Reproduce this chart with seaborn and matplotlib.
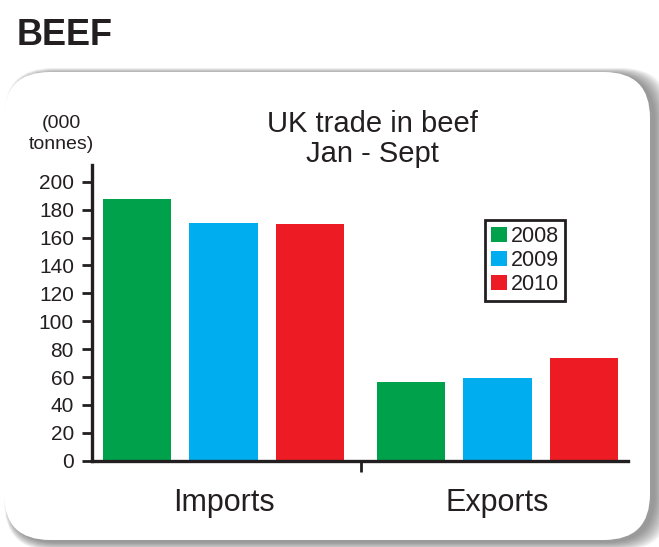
import matplotlib
matplotlib.use("Agg")
import matplotlib.pyplot as plt
from matplotlib.patches import FancyBboxPatch
import seaborn as sns
import pandas as pd

# values, thousand tonnes
flows = ["Imports", "Exports"]
years = ["2008", "2009", "2010"]
imports = [187.4, 170.6, 169.5]
exports = [56.4, 59.3, 73.6]
colours = ["#00A14B", "#00AEEF", "#ED1C24"]
yticks = list(range(0, 201, 20))

df = pd.DataFrame({
    "flow": [f for f in flows for _ in years],
    "year": years * 2,
    "tonnes": imports + exports,
})

sns.set_style("white")
plt.rcParams["font.family"] = ["Liberation Sans", "DejaVu Sans"]

W, H = 659, 547
fig = plt.figure(figsize=(W / 100, H / 100), dpi=100)
fig.patch.set_facecolor("white")

# background panel in pixel units
bg = fig.add_axes([0, 0, 1, 1], zorder=0)
bg.set_xlim(0, W)
bg.set_ylim(H, 0)
bg.axis("off")
x0, y0, x1, y1 = 4, 72, 650, 540
for k in range(12, 0, -1):
    bg.add_patch(FancyBboxPatch((x0 + 4 - k * 0.3, y0 + 2 - k * 0.5), x1 - x0 + k * 1.6, y1 - y0 + k * 1.2,
                                boxstyle="round,pad=0,rounding_size=48",
                                facecolor="#444444", edgecolor="none", alpha=0.06))
bg.add_patch(FancyBboxPatch((x0, y0), x1 - x0, y1 - y0,
                            boxstyle="round,pad=0,rounding_size=46",
                            facecolor="white", edgecolor="none"))

ink = "#231f20"
ax = fig.add_axes([92 / W, 1 - 460.7 / H, (628 - 92) / W, (460.7 - 165) / H], zorder=1)
ax.set_facecolor("none")
sns.barplot(data=df, x="flow", y="tonnes", hue="year", palette=colours,
            width=0.945, gap=0.21, saturation=1, linewidth=0, ax=ax)

ax.set_xlim(-0.48, 1.476)
ax.set_ylim(0, 212)
ax.set_yticks(yticks)
ax.set_xlabel("")
ax.set_ylabel("")
sns.despine(ax=ax)
for s in ["left", "bottom"]:
    ax.spines[s].set_linewidth(2.4)
    ax.spines[s].set_color(ink)
ax.tick_params(axis="y", left=True, length=7, width=2, color=ink, direction="out",
               pad=6, labelsize=15, labelcolor=ink)
ax.tick_params(axis="x", which="major", bottom=True, length=0, pad=20, labelsize=22, labelcolor=ink)
ax.set_xticks([0.5], minor=True)
ax.tick_params(axis="x", which="minor", bottom=True, length=8, width=2, color=ink, direction="out")

leg = ax.legend(loc="upper left", bbox_to_anchor=(485 / W, 1 - 220 / H),
                bbox_transform=fig.transFigure, fontsize=15.5, frameon=True, framealpha=1,
                fancybox=False, edgecolor=ink, handlelength=0.7, handleheight=0.7,
                handletextpad=0.2, labelspacing=0.12, borderpad=0.3, borderaxespad=0)
leg.get_frame().set_linewidth(2)
for t in leg.get_texts():
    t.set_color(ink)

fig.text(17 / W, 1 - 45 / H, "BEEF", fontsize=26, fontweight="bold", color=ink, va="baseline")
fig.text(372 / W, 1 - 132 / H, "UK trade in beef", fontsize=21, color=ink, ha="center", va="baseline")
fig.text(372 / W, 1 - 162 / H, "Jan - Sept", fontsize=21, color=ink, ha="center", va="baseline")
fig.text(61 / W, 1 - 128 / H, "(000", fontsize=14, color=ink, ha="center", va="baseline")
fig.text(61 / W, 1 - 149 / H, "tonnes)", fontsize=14, color=ink, ha="center", va="baseline")

fig.savefig("out.png", dpi=100)
